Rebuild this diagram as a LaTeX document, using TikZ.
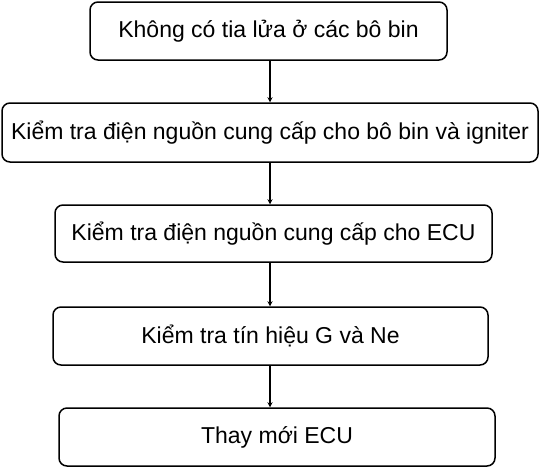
\documentclass[tikz,border=0pt]{standalone}
\usepackage{fontspec}
\setmainfont{Liberation Sans}
\usetikzlibrary{arrows.meta}
\begin{document}
\begin{tikzpicture}[x=1pt,y=-1pt,
  box/.style={draw=black,line width=1.5pt,rounded corners=8pt,inner sep=0pt,
    font=\fontsize{23}{27}\selectfont},
  arr/.style={draw=black,line width=1.2pt,-{Stealth[length=5pt,width=5pt]}}]
\useasboundingbox (0,0) rectangle (540,467);
\node[box,minimum width=357pt,minimum height=58pt] (b1) at (268.5,31) {Không có tia lửa ở các bô bin};
\node[box,minimum width=536pt,minimum height=59pt] (b2) at (270,132.5) {Kiểm tra điện nguồn cung cấp cho bô bin và igniter};
\node[box,minimum width=437pt,minimum height=57pt] (b3) at (273.5,233.5) {Kiểm tra điện nguồn cung cấp cho ECU};
\node[box,minimum width=435pt,minimum height=58pt] (b4) at (270.5,336) {Kiểm tra tín hiệu G và Ne};
\node[box,minimum width=436pt,minimum height=58pt] (b5) at (277,437) {Thay mới ECU};
\coordinate (ax) at (270,0);
\draw[arr] (b1.south -| ax) -- (b2.north -| ax);
\draw[arr] (b2.south -| ax) -- (b3.north -| ax);
\draw[arr] (b3.south -| ax) -- (b4.north -| ax);
\draw[arr] (b4.south -| ax) -- (b5.north -| ax);
\end{tikzpicture}
\end{document}
